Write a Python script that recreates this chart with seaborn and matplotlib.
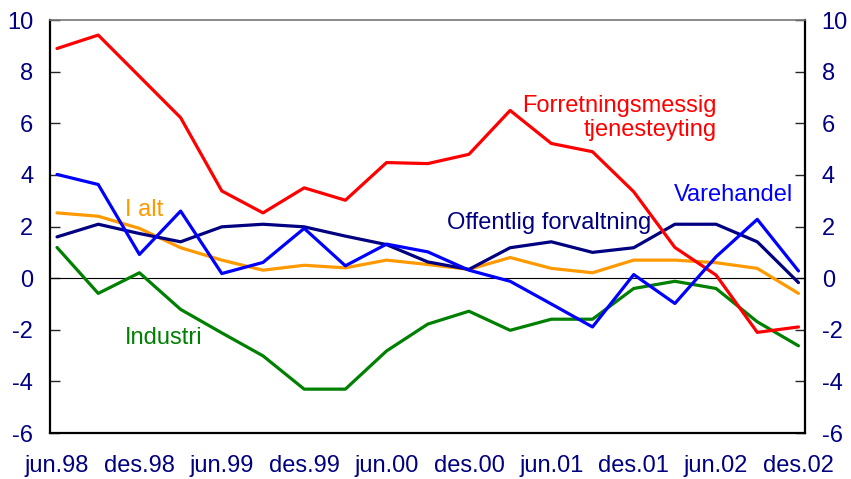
import numpy as np
import pandas as pd
import matplotlib
matplotlib.use('Agg')
import matplotlib.pyplot as plt
import seaborn as sns

# Kvartalsvise verdier, jun.98 - des.02
kvartal = list(range(19))
etiketter = ['jun.98', 'des.98', 'jun.99', 'des.99', 'jun.00',
             'des.00', 'jun.01', 'des.01', 'jun.02', 'des.02']

i_alt = [2.53, 2.4, 1.93, 1.18, 0.7, 0.31, 0.5, 0.4, 0.7, 0.53,
         0.34, 0.8, 0.38, 0.21, 0.7, 0.7, 0.6, 0.38, -0.59]
industri = [1.19, -0.59, 0.21, -1.21, -2.12, -3.01, -4.3, -4.3, -2.82, -1.78,
            -1.28, -2.02, -1.59, -1.59, -0.4, -0.12, -0.4, -1.69, -2.62]
offentlig = [1.6, 2.09, 1.73, 1.41, 1.99, 2.09, 1.99, 1.63, 1.3, 0.63,
             0.34, 1.18, 1.41, 1.0, 1.18, 2.09, 2.09, 1.41, -0.17]
forretning = [8.9, 9.42, 7.82, 6.22, 3.38, 2.53, 3.5, 3.02, 4.48, 4.44,
              4.8, 6.5, 5.22, 4.9, 3.35, 1.19, 0.12, -2.1, -1.89]
varehandel = [4.02, 3.63, 0.92, 2.6, 0.18, 0.61, 1.93, 0.48, 1.32, 1.02,
              0.31, -0.12, -1.0, -1.89, 0.14, -0.98, 0.83, 2.28, 0.28]

serier = {'I alt': i_alt, 'Industri': industri, 'Offentlig forvaltning': offentlig,
          'Forretningsmessig tjenesteyting': forretning, 'Varehandel': varehandel}
farger = {'I alt': '#FF9900', 'Industri': '#008000', 'Offentlig forvaltning': '#000080',
          'Forretningsmessig tjenesteyting': '#FF0000', 'Varehandel': '#0000FF'}

df = pd.concat([pd.DataFrame({'kvartal': kvartal, 'verdi': v, 'serie': k})
                for k, v in serier.items()])

sns.set_style('white')
plt.rcParams['font.family'] = ['Liberation Sans', 'DejaVu Sans']
plt.rcParams['axes.unicode_minus'] = False

fig = plt.figure(figsize=(8.51, 4.79), dpi=100)
ax = fig.add_axes([0.0588, 0.096, 0.8872, 0.862])

ax.axhline(0, color='black', linewidth=0.8, zorder=1)
sns.lineplot(data=df, x='kvartal', y='verdi', hue='serie', palette=farger,
             hue_order=list(serier.keys()), linewidth=2.3, legend=False, ax=ax)

ax.set_xlim(-0.17, 18.16)
ax.set_ylim(-6, 10)
ax.set_yticks(np.arange(-6, 11, 2))
ax.set_xlabel('')
ax.set_ylabel('')

# tick marks between labels, labels under the data points
ax.set_xticks([2 * i - 0.16 for i in range(1, 10)])
ax.set_xticklabels([])
ax.set_xticks([2 * i for i in range(10)], etiketter, minor=True)
ax.tick_params(axis='x', which='major', direction='in', length=7, width=1, color='#333333')
ax.tick_params(axis='x', which='minor', length=0, pad=16, labelsize=17, labelcolor='#000080')
ax.tick_params(axis='y', direction='in', length=7, width=1, left=True, right=True,
               labelleft=True, labelright=True, pad=12, labelsize=17, labelcolor='#000080')

for s in ['left', 'bottom', 'right']:
    ax.spines[s].set_color('black')
    ax.spines[s].set_linewidth(1.6)
ax.spines['top'].set_color('#777777')
ax.spines['top'].set_linewidth(1.2)

ax.text(16.02, 6.2, 'Forretningsmessig\ntjenesteyting', color='#FF0000', fontsize=17,
        ha='right', va='center', multialignment='right', linespacing=1.15)
ax.text(17.86, 3.22, 'Varehandel', color='#0000FF', fontsize=17, ha='right', va='center')
ax.text(9.47, 2.14, 'Offentlig forvaltning', color='#000080', fontsize=17, ha='left', va='center')
ax.text(1.65, 2.64, 'I alt', color='#FF9900', fontsize=17, ha='left', va='center')
ax.text(1.65, -2.33, 'Industri', color='#008000', fontsize=17, ha='left', va='center')

plt.savefig('out.png', dpi=100)
